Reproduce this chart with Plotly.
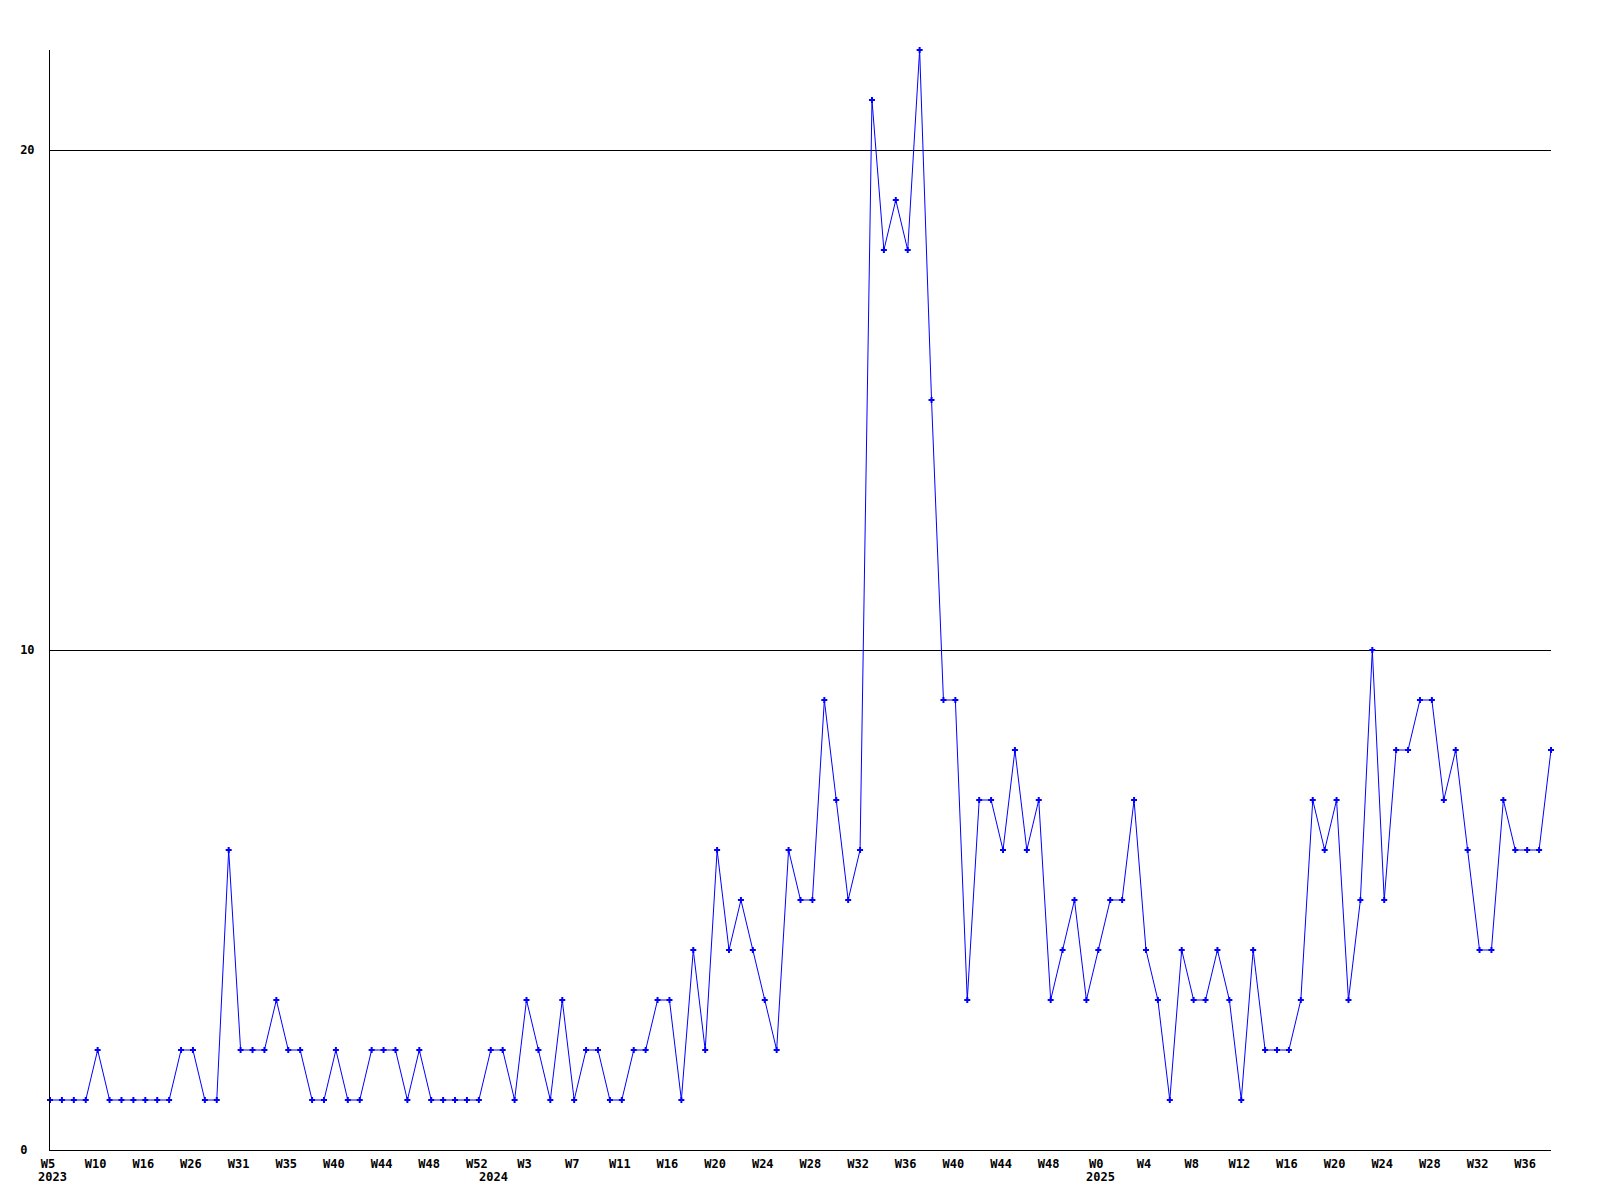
import plotly.graph_objects as go

# ---- data ----
weeks_2023 = [5, 6, 8, 9, 10, 11, 13, 14, 16, 18, 21, 24, 26, 27, 29, 30, 31, 32, 33, 34,
              35, 36, 37, 38, 40, 41, 42, 43, 44, 45, 46, 47, 48, 49, 50, 51, 52]
weeks_2024 = [0, 1, 2, 3, 4, 5, 6, 7, 8, 9, 10, 11, 12, 13, 14, 16, 17, 18, 19, 20,
              21, 22, 23, 24, 25, 26, 27, 28, 29, 30, 31, 32, 33, 34, 35, 36, 37, 38, 39, 40,
              41, 42, 43, 44, 45, 46, 47, 48, 49, 50, 51]
weeks_2025 = [0, 1, 2, 3, 4, 5, 6, 7, 8, 9, 10, 11, 12, 13, 14, 15, 16, 17, 18, 19,
              20, 21, 22, 23, 24, 25, 26, 27, 28, 29, 30, 31, 32, 33, 34, 35, 36, 37, 38]

values = [
    1, 1, 1, 1, 2, 1, 1, 1, 1, 1,
    1, 2, 2, 1, 1, 6, 2, 2, 2, 3,
    2, 2, 1, 1, 2, 1, 1, 2, 2, 2,
    1, 2, 1, 1, 1, 1, 1, 2, 2, 1,
    3, 2, 1, 3, 1, 2, 2, 1, 1, 2,
    2, 3, 3, 1, 4, 2, 6, 4, 5, 4,
    3, 2, 6, 5, 5, 9, 7, 5, 6, 21,
    18, 19, 18, 22, 15, 9, 9, 3, 7, 7,
    6, 8, 6, 7, 3, 4, 5, 3, 4, 5,
    5, 7, 4, 3, 1, 4, 3, 3, 4, 3,
    1, 4, 2, 2, 2, 3, 7, 6, 7, 3,
    5, 10, 5, 8, 8, 9, 9, 7, 8, 6,
    4, 4, 7, 6, 6, 6, 8,
]

years = [2023, 2024, 2025]
week_lists = [weeks_2023, weeks_2024, weeks_2025]

categories = []
week_names = []
for yr, wl in zip(years, week_lists):
    for w in wl:
        categories.append(f"{yr}-W{w:02d}")
        week_names.append(f"W{w}")

tick_step = 4
tick_vals = categories[::tick_step]
tick_text = week_names[::tick_step]
year_label_cats = [f"{yr}-W{wl[0]:02d}" for yr, wl in zip(years, week_lists)]
year_label_text = [str(y) for y in years]

y_ticks = [0, 10, 20]
# labels are left-aligned in the original; pad the short one with a no-break space
y_tick_text = ["0\u00a0", "10", "20"]

FONT = dict(family="DejaVu Sans Mono", size=12, color="black", weight="bold")

fig = go.Figure()
fig.add_trace(go.Scatter(
    x=categories, y=values, mode="lines+markers",
    line=dict(color="#0000FF", width=1),
    marker=dict(symbol="cross", size=5, color="#0000FF"),
    cliponaxis=False, hoverinfo="skip", showlegend=False,
))

for cat, txt in zip(year_label_cats, year_label_text):
    fig.add_annotation(x=cat, xref="x", y=0, yref="paper", text=txt,
                       showarrow=False, xanchor="left", yanchor="top",
                       xshift=-14, yshift=-18, font=FONT)

fig.update_layout(
    width=1584, height=1184,
    margin=dict(l=42, r=41, t=42, b=42, autoexpand=False),
    paper_bgcolor="white", plot_bgcolor="white",
    showlegend=False,
)
fig.update_xaxes(
    type="category", categoryorder="array", categoryarray=categories,
    range=[0, len(categories) - 1],
    tickmode="array", tickvals=tick_vals, ticktext=tick_text,
    showgrid=False, zeroline=False, showline=True, linecolor="black", linewidth=1,
    ticks="", tickfont=FONT, ticklabelstandoff=3, ticklabelshift=-2, automargin=False,
)
fig.update_yaxes(
    range=[0, 22], tickmode="array", tickvals=y_ticks, ticktext=y_tick_text,
    showgrid=True, gridcolor="black", gridwidth=1,
    zeroline=False, showline=True, linecolor="black", linewidth=1,
    ticks="", tickfont=FONT, ticklabelstandoff=12, automargin=False,
)

fig.write_html("out.html", config={"displayModeBar": False})
